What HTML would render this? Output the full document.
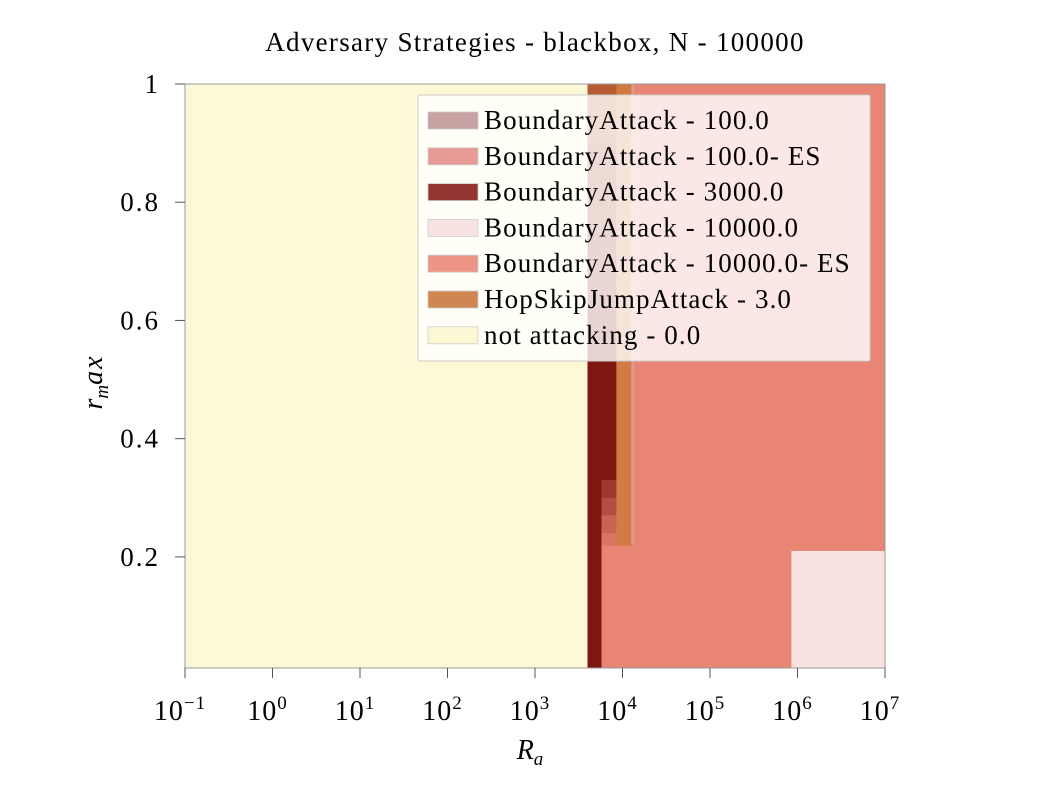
<!DOCTYPE html>
<html><head><meta charset="utf-8"><style>
html,body{margin:0;padding:0;background:#fff;}
svg text{font-family:"Liberation Serif","DejaVu Serif",serif;fill:#000;}
</style></head><body>
<svg id="chart" width="1054" height="780" viewBox="0 0 1054 780" xmlns="http://www.w3.org/2000/svg">
<text x="535" y="51" font-size="27" letter-spacing="1.3" text-anchor="middle">Adversary Strategies - blackbox, N - 100000</text>
<g id="cells"></g>
<g id="axes"></g>
<g id="legend"></g>
</svg>
<script>
// categories
const categories = ["BoundaryAttack - 100.0","BoundaryAttack - 100.0- ES","BoundaryAttack - 3000.0","BoundaryAttack - 10000.0","BoundaryAttack - 10000.0- ES","HopSkipJumpAttack - 3.0","not attacking - 0.0"];
const catColors = ["#c6a2a2","#e89a96","#953530","#f9e3e2","#ec9486","#d08650","#fdf8d4"];
const cellColors = {"BA100":"#c9a09c","BA3000":"#7e1710","BA10000":"#f8e2e1","BA10000ES":"#e88574","HSJ":"#cf7a40","none":"#fdf9d6"};
// cells: [logRa start, logRa end, rmax start, rmax end, category, mix category, mix share]
const cellX0 = [-1, 3.6, 3.76, 3.93, 4.1, 5.93, 3.6, 3.6, 3.6, 3.6, 3.6, 3.76, 3.76, 3.76, 3.76, 3.76, 3.93, 3.93];
const cellX1 = [3.6, 3.76, 5.93, 5.93, 7, 7, 3.93, 3.93, 3.93, 3.93, 3.76, 3.93, 3.93, 3.93, 3.93, 3.93, 4.1, 4.1];
const cellY0 = [0, 0, 0, 0.22, 0, 0, 0.9, 0.75, 0.62, 0.53, 0.33, 0.33, 0.30, 0.27, 0.24, 0.22, 0.22, 0.95];
const cellY1 = [1, 0.33, 0.22, 0.33, 1, 0.21, 1, 0.9, 0.75, 0.62, 0.53, 0.53, 0.33, 0.30, 0.27, 0.24, 0.95, 1];
const cellCat = ["none","BA3000","BA10000ES","BA10000ES","BA10000ES","BA10000","BA3000","BA3000","BA3000","BA3000","BA3000","BA3000","BA3000","BA3000","BA3000","BA3000","HSJ","HSJ"];
const cellMixCat = ["none","BA3000","BA10000ES","BA10000ES","BA10000ES","BA10000","HSJ","HSJ","HSJ","HSJ","HSJ","HSJ","BA10000ES","BA10000ES","BA10000ES","BA10000ES","BA10000ES","HSJ"];
const cellMix = [0,0,0,0,0,0,0.7,0.5,0.3,0.12,0,0,0.3,0.5,0.7,0.85,0.1,0];
// ticks
const xTicks = [-1,0,1,2,3,4,5,6,7];
const yTicks = [0.2,0.4,0.6,0.8,1];
const yTickLabels = ["0.2","0.4","0.6","0.8","1"];

const L=185,R=885,T=84,B=668;
const xS = v => L + (v+1)/8*(R-L);
const yS = v => 675.1 - v*(675.1-84);
const ns="http://www.w3.org/2000/svg";
function mk(tag,attrs,parent){const e=document.createElementNS(ns,tag);for(const k in attrs)e.setAttribute(k,attrs[k]);parent.appendChild(e);return e;}
function hex(c){return [1,3,5].map(i=>parseInt(c.substr(i,2),16));}
function mix(a,b,t){const A=hex(a),B2=hex(b);return "rgb("+A.map((v,i)=>Math.round(v*(1-t)+B2[i]*t)).join(",")+")";}

const cg=document.getElementById('cells');
for(let i=0;i<cellX0.length;i++){
  const y0=Math.max(cellY0[i],0), y1=cellY1[i];
  const top=yS(y1), bot=Math.min(yS(y0),B);
  const r=mk('rect',{x:xS(cellX0[i]),y:top,width:xS(cellX1[i])-xS(cellX0[i])+0.5,height:bot-top+0.5,fill:mix(cellColors[cellCat[i]],cellColors[cellMixCat[i]],cellMix[i])},cg);
  
  
}
const pc=mk('rect',{x:xS(4.1),y:T,width:3,height:yS(0.22)-T,fill:"#dc9a90"},cg);



const ag=document.getElementById('axes');
mk('rect',{x:L,y:T,width:R-L,height:B-T,fill:"none",stroke:"#999","stroke-width":1},ag);
const sup=["−1","0","1","2","3","4","5","6","7"];
xTicks.forEach((v,i)=>{
  const x=xS(v);
  const t=mk('line',{x1:x,x2:x,y1:B,y2:B+10,stroke:"#555","stroke-width":1},ag);
  
  
  const tx=mk('text',{x:x-5,y:720,"font-size":"28","letter-spacing":"1","text-anchor":"middle"},ag);
  
  
  tx.textContent="10";
  const s=mk('tspan',{dy:"-11","font-size":"19"},tx);
  s.textContent=sup[i];
});
yTicks.forEach((v,i)=>{
  const y=yS(v);
  const t=mk('line',{x1:L-10,x2:L,y1:y,y2:y,stroke:"#555","stroke-width":1},ag);
  
  
  const tx=mk('text',{x:160,y:y+9,"font-size":"27","letter-spacing":"2","text-anchor":"end"},ag);
  
  
  tx.textContent=yTickLabels[i];
});
const xt=mk('text',{x:530,y:759,"font-size":"28","font-style":"italic","text-anchor":"middle"},ag);


xt.textContent="R";
const xs=mk('tspan',{dy:"6","font-size":"19"},xt); xs.textContent="a";
const yt=mk('text',{x:0,y:0,"font-size":"28","font-style":"italic","text-anchor":"middle",transform:"translate(102,382) rotate(-90)"},ag);


yt.textContent="r";
const ys=mk('tspan',{dy:"6","font-size":"19"},yt); ys.textContent="m";
const ys2=mk('tspan',{dy:"-6","letter-spacing":"2"},yt); ys2.textContent="ax";

const lg=document.getElementById('legend');
mk('rect',{x:418,y:95,width:452,height:266,fill:"rgba(255,255,255,0.8)",stroke:"#ccc","stroke-width":1,rx:2},lg);
categories.forEach((c,i)=>{
  const y=120+i*35.8;
  const sw=mk('rect',{x:428,y:y-8,width:50,height:17,fill:catColors[i],stroke:"#ccc","stroke-width":0.8},lg);
  
  
  const t=mk('text',{x:484,y:y+9,"font-size":"27","letter-spacing":"1.1"},lg);
  
  
  t.textContent=c;
});
</script>
</body></html>
